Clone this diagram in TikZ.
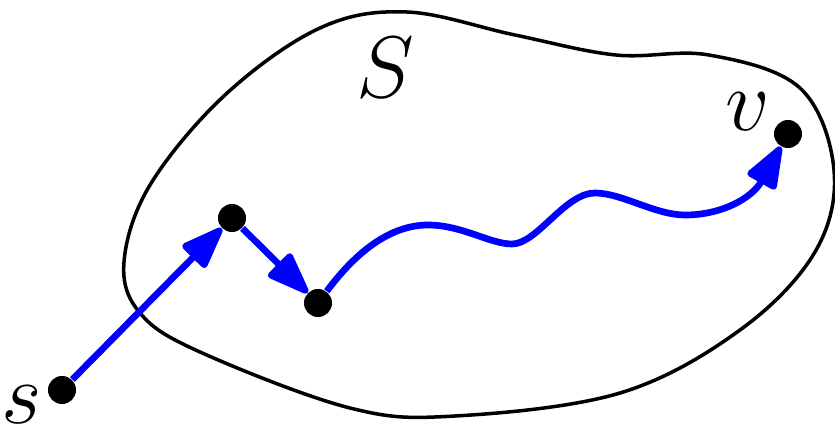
\documentclass[tikz,border=0pt]{standalone}
\usetikzlibrary{arrows.meta}
\begin{document}
\begin{tikzpicture}[x=0.01cm,y=-0.01cm,
  dot/.style={circle,fill=black,inner sep=0pt,minimum size=0.28cm},
  pathedge/.style={blue,line width=1.9pt,-{Triangle[length=0.48cm,width=0.34cm,round]}},
  blob/.style={black,line width=1pt},
  lbl/.style={font=\fontsize{23}{27}\selectfont,inner sep=0pt}]
\useasboundingbox (0,0) rectangle (835,433);
\draw[blob] plot[smooth cycle,tension=0.6] coordinates {
  (124,262) (150,185) (225,95) (320,28) (407,12) (515,35) (616,55) (709,55)
  (800,88) (834,170) (815,252) (740,330) (620,393) (455,416) (350,408) (200,352) (140,313)};
\node[dot] (s) at (62,390) {};
\node[dot] (a) at (232,218) {};
\node[dot] (b) at (318,303) {};
\node[dot] (v) at (788,134) {};
\node[lbl] (ls) at (22,405) {$s$};
\node[lbl] (lv) at (748,112) {$v$};
\node[lbl] (lS) at (385,68) {$S$};
\draw[pathedge] (s) -- (a);
\draw[pathedge] (a) -- (b);
\draw[pathedge] (b) .. controls (350,260) and (385,225) .. (428,225)
  .. controls (462,225) and (490,244) .. (512,244)
  .. controls (537,244) and (565,193) .. (595,193)
  .. controls (622,193) and (655,215) .. (685,215)
  .. controls (722,215) and (752,198) .. (v);
\end{tikzpicture}
\end{document}
